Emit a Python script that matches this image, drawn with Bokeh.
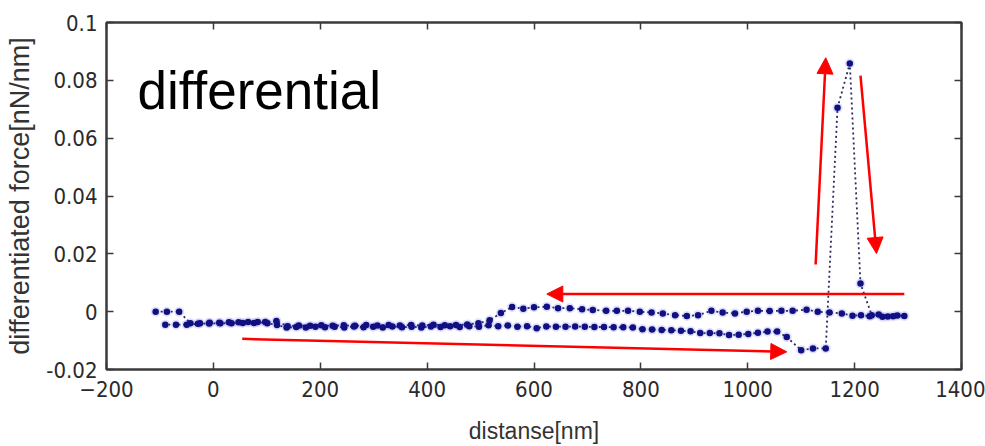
from bokeh.plotting import figure
from bokeh.models import (Range1d, LinearAxis, FixedTicker, CustomJSTickFormatter,
                          Label, Arrow, NormalHead)
from bokeh.embed import file_html
from bokeh.resources import INLINE

# Approach: tip moves toward the sample (lower branch, left to right), snaps, then the peak
approach_nm = [-108, -87, -64, -43,
               -25, -7, 11, 29, 47, 65, 83, 101, 119, 137,
               155, 173, 191, 209, 227, 245, 263, 281, 299, 317,
               335, 353, 371, 389, 407, 425, 443, 461, 479, 497,
               515, 533, 551, 569, 587, 605, 623, 641, 659, 677,
               695, 713, 731, 749, 767, 785, 803, 821, 839, 857,
               875, 893, 911, 929, 947, 965, 983, 1001, 1019, 1037,
               1055, 1073,
               1100, 1122, 1146, 1168, 1191, 1211, 1232, 1252, 1272, 1293]
approach_force = [0.0000, 0.0000, 0.0000, -0.0040,
                  -0.0040, -0.0038, -0.0038, -0.0037, -0.0037, -0.0036, -0.0036, -0.0040, -0.0046, -0.0055,
                  -0.0053, -0.0055, -0.0052, -0.0054, -0.0052, -0.0055, -0.0051, -0.0054, -0.0052, -0.0055,
                  -0.0051, -0.0054, -0.0052, -0.0055, -0.0051, -0.0053, -0.0050, -0.0053, -0.0050, -0.0052,
                  -0.0047, -0.0050, -0.0048, -0.0052, -0.0050, -0.0057, -0.0051, -0.0052, -0.0052, -0.0051,
                  -0.0052, -0.0053, -0.0053, -0.0054, -0.0054, -0.0055, -0.0061, -0.0062, -0.0063, -0.0064,
                  -0.0066, -0.0068, -0.0074, -0.0074, -0.0075, -0.0081, -0.0080, -0.0077, -0.0073, -0.0069,
                  -0.0069, -0.0088,
                  -0.0133, -0.0127, -0.0127, 0.0705, 0.0858, 0.0097, -0.0012, -0.0018, -0.0016, -0.0015]

# Retraction: upper branch, right to left
retract_nm = [1280, 1262, 1245, 1228, 1212, 1196, 1176, 1153, 1131, 1110,
              1084, 1063, 1041, 1019, 998, 976, 953, 932, 907, 886,
              864, 841, 820, 798, 776, 755, 735, 710, 690, 667,
              645, 624, 600, 580, 559, 538, 517, 496, 475, 454,
              433, 412, 391, 370, 349, 328, 307, 286, 265, 244,
              223, 202, 181, 160, 139, 118, 97, 76, 55, 34,
              13, -8, -29, -50, -70, -90]
retract_force = [-0.0013, -0.0017, -0.0010, -0.0016, -0.0012, -0.0014, -0.0006, -0.0003, 0.0000, 0.0007,
                 0.0003, 0.0003, 0.0002, 0.0003, 0.0000, -0.0006, -0.0003, 0.0003, -0.0012, -0.0015,
                 -0.0012, -0.0006, -0.0003, 0.0000, 0.0003, 0.0003, 0.0003, 0.0006, 0.0008, 0.0012,
                 0.0012, 0.0017, 0.0015, 0.0010, 0.0016, -0.0005, -0.0030, -0.0040, -0.0044, -0.0046,
                 -0.0047, -0.0045, -0.0048, -0.0046, -0.0048, -0.0046, -0.0048, -0.0046, -0.0049, -0.0047,
                 -0.0049, -0.0047, -0.0049, -0.0048, -0.0050, -0.0032, -0.0036, -0.0039, -0.0039, -0.0040,
                 -0.0040, -0.0041, -0.0042, -0.0045, -0.0045, -0.0045]

x_ticks = [-200, 0, 200, 400, 600, 800, 1000, 1200, 1400]
y_ticks = [-0.02, 0.0, 0.02, 0.04, 0.06, 0.08, 0.1]

assert len(approach_nm) == len(approach_force)
assert len(retract_nm) == len(retract_force)

dist = approach_nm + retract_nm
force = approach_force + retract_force

TICK_FONT = "'Liberation Sans Narrow', 'DejaVu Sans Condensed', sans-serif"
LABEL_FONT = "'Liberation Sans', Arial, sans-serif"
AXIS_COLOR = "#3a3a3a"

p = figure(width=985, height=446, output_backend="svg", toolbar_location=None,
           x_range=Range1d(-200, 1400), y_range=Range1d(-0.02, 0.1),
           x_axis_label="distanse[nm]", y_axis_label="differentiated force[nN/nm]",
           min_border_left=106, min_border_right=24, min_border_top=22, min_border_bottom=76)
p.grid.visible = False
p.outline_line_color = AXIS_COLOR
p.outline_line_width = 2
p.background_fill_color = "white"
p.border_fill_color = "white"

fmt = CustomJSTickFormatter(code="""
    if (Math.abs(tick) < 1e-9) return "0";
    return tick.toFixed(2).replace(/0+$/, "").replace(/\\.$/, "");
""")

for ax in p.xaxis:
    ax.ticker = FixedTicker(ticks=x_ticks)
for ax in p.yaxis:
    ax.ticker = FixedTicker(ticks=y_ticks)
    ax.formatter = fmt

for ax in p.xaxis + p.yaxis:
    ax.major_tick_in = 7
    ax.major_tick_out = 0
    ax.minor_tick_line_color = None
    ax.axis_line_color = AXIS_COLOR
    ax.axis_line_width = 2
    ax.major_tick_line_color = AXIS_COLOR
    ax.major_tick_line_width = 1.5
    ax.major_label_text_font = TICK_FONT
    ax.major_label_text_font_size = "22px"
    ax.major_label_text_color = "#2a2a2a"
    ax.axis_label_text_font = LABEL_FONT
    ax.axis_label_text_font_style = "normal"
    ax.axis_label_text_color = "#333333"

p.xaxis.major_label_standoff = 11
p.yaxis.major_label_standoff = 9
p.xaxis.axis_label_text_font_size = "23px"
p.xaxis.axis_label_standoff = 18
p.yaxis.axis_label_text_font_size = "27px"
p.yaxis.axis_label_standoff = 8

# Tick marks on the top and right edges of the box
top = LinearAxis(ticker=FixedTicker(ticks=x_ticks), major_label_text_color=None,
                 major_label_text_font_size="1px", major_tick_in=7, major_tick_out=0,
                 minor_tick_line_color=None, axis_line_color=AXIS_COLOR, axis_line_width=2,
                 major_tick_line_color=AXIS_COLOR, major_tick_line_width=1.5)
right = LinearAxis(ticker=FixedTicker(ticks=y_ticks), major_label_text_color=None,
                   major_label_text_font_size="1px", major_tick_in=7, major_tick_out=0,
                   minor_tick_line_color=None, axis_line_color=AXIS_COLOR, axis_line_width=2,
                   major_tick_line_color=AXIS_COLOR, major_tick_line_width=1.5)
p.add_layout(top, "above")
p.add_layout(right, "right")

# Measured curve: dotted trace with point markers
p.line(dist, force, line_color="#2a2a5e", line_width=1.8, line_dash="2 3")
p.scatter(dist, force, marker="circle", size=10, fill_color="#3a3aff", fill_alpha=0.16, line_color=None)
p.scatter(dist, force, marker="circle", size=6.5, fill_color="#10107f", line_color=None)

# Direction arrows
head = dict(size=16, fill_color="#ff0000", line_color="#ff0000", line_width=1)
p.add_layout(Arrow(end=NormalHead(**head), x_start=54, y_start=-0.0094, x_end=1073, y_end=-0.0139,
                   line_color="#ff0000", line_width=2.5))
p.add_layout(Arrow(end=NormalHead(**head), x_start=1293, y_start=0.0061, x_end=624, y_end=0.0061,
                   line_color="#ff0000", line_width=2.5))
p.add_layout(Arrow(end=NormalHead(**head), x_start=1127, y_start=0.0163, x_end=1146, y_end=0.0878,
                   line_color="#ff0000", line_width=2.5))
p.add_layout(Arrow(end=NormalHead(**head), x_start=1211, y_start=0.0816, x_end=1241, y_end=0.0201,
                   line_color="#ff0000", line_width=2.5))

p.add_layout(Label(x=-142, y=0.0764, text="differential", text_font=LABEL_FONT,
                   text_font_size="53px", text_color="black", text_baseline="alphabetic"))

open("out.html", "w").write(file_html(p, INLINE))
